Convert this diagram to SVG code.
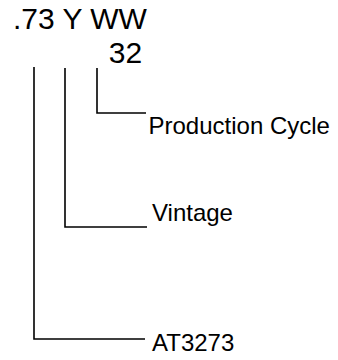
<svg xmlns="http://www.w3.org/2000/svg" width="338" height="360" viewBox="0 0 338 360">
<style>
text{font-family:"Liberation Sans",Arial,sans-serif;fill:#000}
.t{font-size:30px}
.l{font-size:24px}
.c{fill:none;stroke:#000;stroke-width:1.6}
</style>
<rect width="338" height="360" fill="#fff"/>
<g id="code">
<text class="t" x="13" y="29">.73 Y WW</text>
<text class="t" x="108.8" y="63">32</text>
</g>
<g id="connectors">
<polyline class="c" points="34,67 34,339 145,339"/>
<polyline class="c" points="65,68 65,227 147,227"/>
<polyline class="c" points="97,68 97,113 146,113"/>
</g>
<g id="production-cycle"><text class="l" x="148.5" y="134">Production Cycle</text></g>
<g id="vintage"><text class="l" x="152" y="221">Vintage</text></g>
<g id="at3273"><text class="l" x="152" y="351">AT3273</text></g>
</svg>
